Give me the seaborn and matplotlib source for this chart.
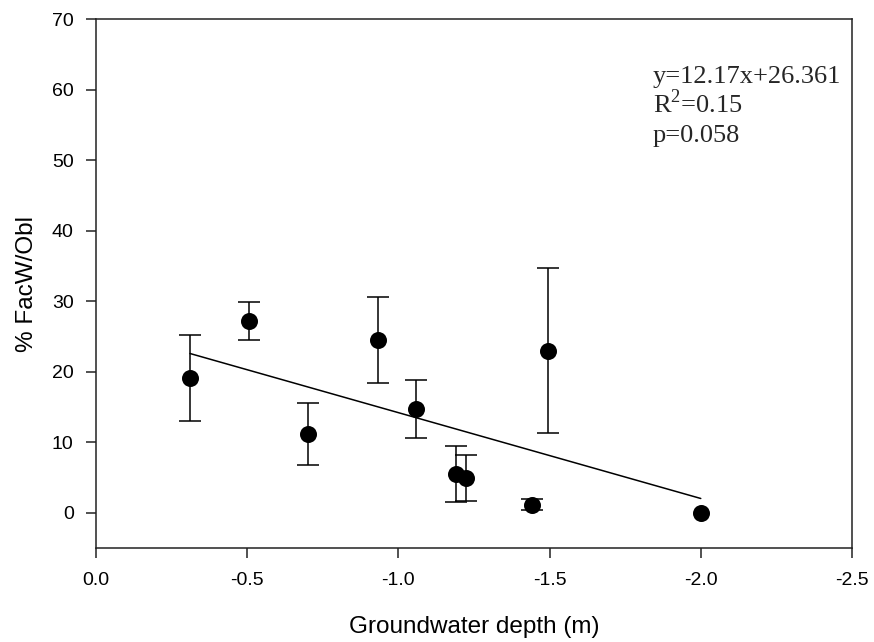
import numpy as np
import pandas as pd
import matplotlib
matplotlib.use('Agg')
import matplotlib.pyplot as plt
import seaborn as sns

# Data
depth = [-0.311, -0.506, -0.701, -0.931, -1.057, -1.190, -1.224, -1.441, -1.496, -2.000]
facw = [19.1, 27.2, 11.2, 24.5, 14.7, 5.5, 4.9, 1.15, 23.0, 0.0]
se = [6.1, 2.65, 4.4, 6.15, 4.15, 4.0, 3.3, 0.75, 11.7, 0.0]

# Fitted line (from the equation printed on the chart)
slope = 12.17
intercept = 26.361
stats_lines = ['y=12.17x+26.361', 'R$^2$=0.15', 'p=0.058']

df = pd.DataFrame({'depth': depth, 'facw': facw, 'se': se})

sns.set_style('ticks')
plt.rcParams['font.family'] = ['Liberation Sans', 'DejaVu Sans']
plt.rcParams['mathtext.fontset'] = 'custom'
plt.rcParams['mathtext.rm'] = 'Liberation Serif'

fig = plt.figure(figsize=(8.74, 6.42), dpi=100)
ax = fig.add_axes([0.1098, 0.1464, 0.865, 0.824])

# regression line
line_x = np.array([df['depth'].max(), df['depth'].min()])
ax.plot(line_x, slope * line_x + intercept, color='black', lw=1.1, zorder=2)

# error bars (skip points without spread)
eb = df[df['se'] > 0]
ax.errorbar(eb['depth'], eb['facw'], yerr=eb['se'], fmt='none',
            ecolor='black', elinewidth=1.1, capsize=8, capthick=1.1, zorder=3)

# points
sns.scatterplot(data=df, x='depth', y='facw', ax=ax, color='black',
                s=150, edgecolor='black', linewidth=0, zorder=4)

ax.set_xlim(0.0, -2.5)
ax.set_ylim(-5, 70)
ax.set_xticks([0.0, -0.5, -1.0, -1.5, -2.0, -2.5])
ax.set_xticklabels(['0.0', '-0.5', '-1.0', '-1.5', '-2.0', '-2.5'])
ax.set_yticks(range(0, 71, 10))

ax.set_xlabel('Groundwater depth (m)', fontsize=17.5, labelpad=20, color='black')
ax.set_ylabel('% FacW/Obl', fontsize=17.5, labelpad=10, color='black')
ax.tick_params(axis='both', labelsize=14, direction='out', length=7,
               width=1.1, color='#222222', labelcolor='black')
ax.tick_params(axis='y', pad=9)
ax.tick_params(axis='x', pad=10)

for sp in ax.spines.values():
    sp.set_linewidth(1.1)
    sp.set_color('#222222')

# equation text, one line at a time
for i, s in enumerate(stats_lines):
    ax.text(0.7368, 0.8796 - i * 0.0562, s, transform=ax.transAxes,
            ha='left', va='baseline', fontsize=19, family='Liberation Serif')

fig.savefig('out.png', dpi=100)
